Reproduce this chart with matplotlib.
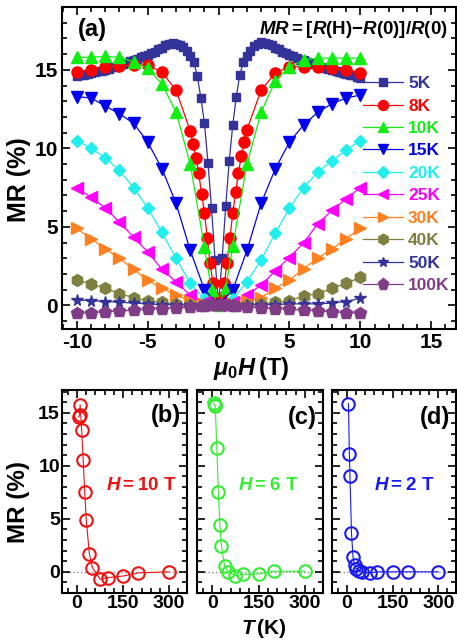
import numpy as np
import matplotlib
matplotlib.use('Agg')
import matplotlib.pyplot as plt
from matplotlib.ticker import MultipleLocator

plt.rcParams['font.family'] = ['Liberation Sans', 'DejaVu Sans']
plt.rcParams['font.weight'] = 'bold'
plt.rcParams['axes.linewidth'] = 1.5
plt.rcParams['axes.unicode_minus'] = False
plt.rcParams['mathtext.fontset'] = 'custom'
plt.rcParams['mathtext.rm'] = 'Liberation Sans:bold'
plt.rcParams['mathtext.it'] = 'Liberation Sans:italic:bold'
plt.rcParams['mathtext.bf'] = 'Liberation Sans:bold'

# ---------------- panel (a) data: MR(%) vs mu0H (T) ----------------
# 5K, dense field sweep (0.25 T)
H_5K = np.arange(-40, 41) * 0.25
MR_5K = [14.6, 14.65, 14.7, 14.75, 14.8, 14.85, 14.9, 14.95, 15.0, 15.05,
         15.15, 15.2, 15.3, 15.35, 15.45, 15.55, 15.65, 15.7, 15.8, 15.85,
         15.95, 16.05, 16.15, 16.3, 16.4, 16.55, 16.65, 16.7, 16.65, 16.55,
         16.45, 16.2, 15.9, 15.5, 14.6, 13.2, 11.6, 9.1, 6.2, 2.9,
         0.0,
         3.0, 6.3, 9.2, 11.5, 13.3, 14.7, 15.5, 15.9, 16.2, 16.5,
         16.65, 16.75, 16.7, 16.65, 16.55, 16.4, 16.3, 16.15, 16.05, 15.95,
         15.85, 15.75, 15.65, 15.6, 15.5, 15.45, 15.35, 15.3, 15.2, 15.1,
         15.05, 15.0, 14.9, 14.85, 14.8, 14.75, 14.7, 14.65, 14.55, 14.5]

H_8K = [-10, -9, -8, -7, -6, -5, -4, -3, -2, -1.8, -1.6, -1.4, -1.2, -1.0,
        -0.8, -0.6, -0.4, -0.2, 0, 0.2, 0.4, 0.6, 0.8, 1.0, 1.2, 1.4, 1.6,
        1.8, 2, 3, 4, 5, 6, 7, 8, 9, 10]
MR_8K = [14.85, 15.0, 15.2, 15.25, 15.3, 15.3, 14.85, 13.7, 11.1, 10.3, 9.4,
         8.4, 7.1, 5.9, 4.3, 2.7, 1.4, 0.5, 0.0, 0.5, 1.4, 2.7, 4.3, 5.9, 7.2,
         8.4, 9.5, 10.4, 11.2, 13.7, 14.8, 15.2, 15.2, 15.2, 15.1, 15.0, 14.8]

H_10K = [-10, -9, -8, -7, -6, -5, -4, -3, -2, -1, -0.5, 0, 0.5, 1,
         2, 3, 4, 5, 6, 7, 8, 9, 10]
MR_10K = [15.8, 15.8, 15.85, 15.8, 15.5, 15.1, 14.1, 12.3, 9.0, 3.7, 1.0, 0.0,
          1.1, 3.8, 9.0, 12.3, 14.3, 15.2, 15.6, 15.75, 15.75, 15.75, 15.75]

H_step = [-10, -9, -8, -7, -6, -5, -4, -3, -2, -1, 0, 1, 2, 3, 4, 5, 6, 7, 8, 9, 10]
MR_15K = [13.3, 13.2, 12.7, 12.2, 11.6, 10.4, 8.7, 6.5, 3.5, 1.0, 0.0,
          1.0, 3.5, 6.5, 8.7, 10.4, 11.5, 12.3, 12.85, 13.2, 13.4]
MR_20K = [10.5, 10.0, 9.4, 8.6, 7.5, 6.2, 4.65, 3.0, 1.4, 0.4, 0.0,
          0.4, 1.5, 2.9, 4.6, 6.2, 7.5, 8.5, 9.2, 9.9, 10.5]
MR_25K = [7.45, 6.9, 6.2, 5.3, 4.35, 3.4, 2.3, 1.5, 0.65, 0.2, 0.0,
          0.2, 0.65, 1.3, 2.2, 3.05, 4.0, 5.2, 6.05, 6.8, 7.5]
MR_30K = [4.9, 4.25, 3.6, 3.0, 2.3, 1.6, 1.1, 0.65, 0.3, 0.1, 0.0,
          0.1, 0.3, 0.5, 1.1, 1.6, 2.35, 3.0, 3.6, 4.25, 4.9]
MR_40K = [1.65, 1.35, 1.1, 0.75, 0.5, 0.3, 0.2, 0.1, 0.05, 0.0, 0.0,
          0.0, 0.05, 0.1, 0.2, 0.3, 0.6, 0.75, 1.1, 1.4, 1.8]
MR_50K = [0.35, 0.3, 0.25, 0.2, 0.15, 0.1, 0.05, 0.05, 0.0, 0.0, 0.0,
          0.0, 0.0, 0.05, 0.05, 0.1, 0.1, 0.1, 0.15, 0.25, 0.45]

H_100K = [-10, -9, -8, -7, -6, -5, -4, -3, -2, -1.25, -1, -0.75, -0.5, -0.25,
          0, 0.25, 0.5, 0.75, 1, 1.25, 2, 3, 4, 5, 6, 7, 8, 9, 10]
MR_100K = [-0.5, -0.45, -0.4, -0.35, -0.3, -0.25, -0.2, -0.15, -0.1, -0.05,
           -0.05, 0, 0, 0, 0, 0, 0, 0, -0.05, -0.05, -0.1, -0.15, -0.2, -0.25,
           -0.3, -0.35, -0.4, -0.45, -0.5]

series = [
    ('5K', H_5K, MR_5K, '#333399', 's', 6),
    ('8K', H_8K, MR_8K, '#ff0000', 'o', 8),
    ('10K', H_10K, MR_10K, '#11ee11', '^', 8.5),
    ('15K', H_step, MR_15K, '#0000ee', 'v', 8.5),
    ('20K', H_step, MR_20K, '#22eeee', 'D', 6.5),
    ('25K', H_step, MR_25K, '#ff00ff', '<', 8.5),
    ('30K', H_step, MR_30K, '#ff8020', '>', 8.5),
    ('40K', H_step, MR_40K, '#7f7f3f', 'h', 8.5),
    ('50K', H_step, MR_50K, '#333399', '*', 8.5),
    ('100K', H_100K, MR_100K, '#803c87', 'p', 9),
]

# ---------------- panels (b)-(d) data: MR(%) vs T (K) ----------------
T_b = [5, 8, 10, 15, 20, 25, 30, 40, 50, 75, 100, 150, 200, 300]
MR_b = [14.6, 14.8, 15.75, 13.4, 10.5, 7.5, 4.9, 1.7, 0.4, -0.7, -0.55, -0.4, -0.1, 0.0]
T_c = [5, 8, 10, 15, 20, 25, 30, 40, 50, 75, 100, 150, 200, 300]
MR_c = [15.9, 15.7, 15.6, 11.7, 7.5, 4.4, 2.45, 0.55, 0.0, -0.35, -0.25, -0.2, 0.05, 0.05]
T_d = [5, 8, 10, 15, 20, 25, 30, 40, 50, 75, 100, 150, 200, 300]
MR_d = [15.85, 11.15, 9.0, 3.65, 1.4, 0.6, 0.3, 0.1, -0.05, -0.1, 0.0, 0.0, 0.0, 0.0]

W, Hh = 457, 641
fig = plt.figure(figsize=(W / 100, Hh / 100), dpi=100)


def style_axis(ax, pad=3, size=15):
    ax.tick_params(which='both', direction='in', top=True, right=True, width=1.2)
    ax.tick_params(which='major', length=6, labelsize=size, pad=pad)
    ax.tick_params(which='minor', length=3.5)


# panel (a)
ax = fig.add_axes([62 / W, 1 - 329 / Hh, (456 - 62) / W, (329 - 7) / Hh])
for name, hx, mr, col, mk, ms in series:
    ax.plot(hx, mr, '-', color=col, lw=0.9, marker=mk, ms=ms, mec=col, mfc=col,
            label=name)
ax.set_xlim(-11.05, 16.75)
ax.set_ylim(-1.5, 19.0)
ax.xaxis.set_major_locator(MultipleLocator(5))
ax.xaxis.set_minor_locator(MultipleLocator(1))
ax.yaxis.set_major_locator(MultipleLocator(5))
ax.yaxis.set_minor_locator(MultipleLocator(1))
ax.set_yticks([0, 5, 10, 15])
style_axis(ax)
ax.text(0.04, 0.93, '(a)', transform=ax.transAxes, fontsize=17, ha='left', va='center')
ax.text(0.98, 0.93, r'$MR = [R(\mathrm{H})\mathrm{-}R(0)]/R(0)$', transform=ax.transAxes,
        fontsize=13.5, ha='right', va='center')
leg = ax.legend(loc='upper left', bbox_to_anchor=(363 / W, 1 - 76 / Hh),
                bbox_transform=fig.transFigure, frameon=False, fontsize=12.5,
                labelcolor='linecolor', handlelength=2.3, handletextpad=0.3,
                labelspacing=0.42, borderpad=0, borderaxespad=0, markerscale=0.9)
for t in leg.get_texts():
    t.set_fontweight('bold')
fig.text(251 / W, 1 - 368 / Hh, r'$\mu_\mathrm{0}H\,\mathrm{(T)}$', fontsize=17,
         ha='center', va='center')
fig.text(19 / W, 1 - 180 / Hh, 'MR (%)', fontsize=18, rotation=90, ha='center', va='center')

# panels (b), (c), (d)
bottom_panels = [
    (62, 187, T_b, MR_b, '#ee1111', '(b)', r'$H\mathrm{= 10\ T}$', 141, 0.875),
    (197, 323, T_c, MR_c, '#33ee33', '(c)', r'$H\mathrm{= 6\ T}$', 268, 0.865),
    (332, 456, T_d, MR_d, '#1a1aee', '(d)', r'$H\mathrm{= 2\ T}$', 404, 0.865),
]
for i, (x0, x1, tt, mr, col, lab, htxt, hx, ly) in enumerate(bottom_panels):
    bx = fig.add_axes([x0 / W, 1 - 593 / Hh, (x1 - x0) / W, (593 - 390) / Hh])
    bx.axhline(0, color='#888888', ls=':', lw=1, zorder=1)
    bx.plot(tt, mr, '-', color=col, lw=0.8, marker='o', ms=9, mfc='none',
            mec=col, mew=1.5, zorder=3)
    bx.set_xlim(-49, 358)
    bx.set_ylim(-2.0, 17.15)
    bx.set_xticks([0, 150, 300])
    bx.xaxis.set_minor_locator(MultipleLocator(30))
    bx.set_yticks([0, 5, 10, 15])
    bx.yaxis.set_minor_locator(MultipleLocator(1))
    style_axis(bx, pad=1.5, size=14)
    if i > 0:
        bx.tick_params(labelleft=False)
    bx.text(0.95, ly, lab, transform=bx.transAxes, fontsize=17, ha='right', va='center')
    fig.text(hx / W, 1 - 485 / Hh, htxt, color=col, fontsize=13.5, ha='center', va='center')

fig.text(18 / W, 1 - 502 / Hh, 'MR (%)', fontsize=17.5, rotation=90, ha='center', va='center')
fig.text(264 / W, 1 / Hh, r'$T\,\mathrm{(K)}$', fontsize=15, ha='center', va='bottom')

fig.savefig('out.png', dpi=100)
